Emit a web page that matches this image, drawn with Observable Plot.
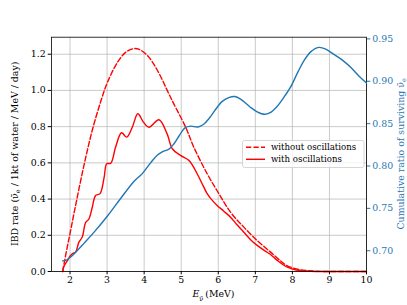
<!DOCTYPE html>
<html><head><meta charset="utf-8">
<script src="https://cdn.jsdelivr.net/npm/d3@7"></script>
<script src="https://cdn.jsdelivr.net/npm/@observablehq/plot@0.6"></script>
<style>
body{margin:0;background:#fff;}
#wrap{position:relative;width:407px;height:305px;}
#wrap svg{position:absolute;left:0;top:0;}
</style></head><body><div id="wrap"></div>
<script>
// ---- data ----
const energyNoOsc = [1.8,1.85,1.93,2.0,2.15,2.38,2.6,2.83,3.0,3.28,3.5,3.7,3.85,4.1,4.36,4.67,4.8,5.12,5.34,5.7,6.02,6.33,6.69,7.05,7.41,7.7,7.85,8.2,8.6,9.0,9.5,10];
const rateNoOsc   = [0,0.055,0.14,0.21,0.365,0.59,0.78,0.94,1.04,1.155,1.21,1.23,1.228,1.19,1.11,0.98,0.926,0.797,0.687,0.54,0.429,0.328,0.245,0.171,0.107,0.055,0.033,0.01,0.002,0,0,0];

const energyOsc = [1.8,1.84,1.93,2.02,2.08,2.15,2.24,2.33,2.42,2.51,2.6,2.69,2.81,2.92,2.99,3.1,3.23,3.39,3.53,3.68,3.83,3.98,4.13,4.4,4.62,4.76,4.98,5.21,5.43,5.6,5.7,5.85,5.97,6.15,6.33,6.5,6.69,6.9,7.05,7.25,7.41,7.6,7.85,8.1,8.5,9.0,9.5,10];
const rateOsc   = [0,0.03,0.06,0.09,0.1,0.107,0.162,0.19,0.27,0.29,0.355,0.42,0.43,0.52,0.595,0.598,0.687,0.766,0.742,0.797,0.871,0.825,0.797,0.838,0.76,0.678,0.641,0.613,0.54,0.47,0.43,0.39,0.365,0.333,0.30,0.26,0.217,0.17,0.144,0.115,0.094,0.06,0.025,0.008,0.001,0,0,0];

const energyCum = [1.8,1.9,2.0,2.1,2.38,2.65,3.01,3.37,3.73,3.95,4.18,4.36,4.5,4.67,4.8,4.95,5.1,5.25,5.45,5.6,5.75,5.9,6.1,6.3,6.45,6.6,6.85,7.05,7.25,7.4,7.58,7.8,7.95,8.15,8.31,8.5,8.71,8.9,9.11,9.35,9.56,9.8,10.0];
const ratioCum  = [0.688,0.689,0.692,0.696,0.709,0.722,0.741,0.762,0.782,0.791,0.804,0.813,0.817,0.820,0.826,0.836,0.845,0.847,0.846,0.849,0.856,0.865,0.876,0.881,0.882,0.879,0.870,0.864,0.861,0.863,0.870,0.883,0.893,0.911,0.924,0.935,0.940,0.938,0.932,0.925,0.917,0.906,0.898];

const xTicks = [2,3,4,5,6,7,8,9,10];
const yTicksLeft = [0,0.2,0.4,0.6,0.8,1.0,1.2];
const yTicksRight = [0.70,0.75,0.80,0.85,0.90,0.95];
const legendLabels = ["without oscillations","with oscillations"];

// ---- tables ----
const noOsc = energyNoOsc.map((E,i)=>({E, v: rateNoOsc[i]}));
const osc = energyOsc.map((E,i)=>({E, v: rateOsc[i]}));
const cum = energyCum.map((E,i)=>({E, r: ratioCum[i]}));

const W=407, H=305, mL=51, mR=41, mT=36.7, mB=34;
const font = "DejaVu Serif";
const fs = 9.4;
const legendFs = 8.6;
const red = "#ff0000", blue = "#1f77b4";
const dash = "5.2,2.3";

const main = Plot.plot({
  width: W, height: H, marginLeft: mL, marginRight: mR, marginTop: mT, marginBottom: mB,
  style: {fontFamily: font, fontSize: fs + "px", background: "transparent", color: "black"},
  x: {domain: [1.5, 10]},
  y: {domain: [0, 1.294]},
  marks: [
    Plot.gridX(xTicks, {stroke: "#b0b0b0", strokeOpacity: 0.75, strokeWidth: 0.9}),
    Plot.gridY(yTicksLeft, {stroke: "#b0b0b0", strokeOpacity: 0.75, strokeWidth: 0.9}),
    Plot.line(noOsc, {x: "E", y: "v", stroke: red, strokeWidth: 1.4, strokeDasharray: dash, curve: "catmull-rom"}),
    Plot.line(osc, {x: "E", y: "v", stroke: red, strokeWidth: 1.4, curve: "catmull-rom"}),
    Plot.axisX(xTicks, {tickSize: 3.3, tickPadding: 2, tickFormat: d => String(d), label: null}),
    Plot.axisY(yTicksLeft, {tickSize: 3.3, tickPadding: 2.5, tickFormat: d3.format(".1f"), label: null}),
    Plot.frame({stroke: "black", strokeWidth: 0.8})
  ]
});

const right = Plot.plot({
  width: W, height: H, marginLeft: mL, marginRight: mR, marginTop: mT, marginBottom: mB,
  style: {fontFamily: font, fontSize: fs + "px", background: "transparent", color: "black"},
  x: {domain: [1.5, 10], axis: null},
  y: {domain: [0.6755, 0.952], axis: null},
  marks: [
    Plot.line(cum, {x: "E", y: "r", stroke: blue, strokeWidth: 1.4, curve: "catmull-rom"}),
    Plot.axisY(yTicksRight, {anchor: "right", color: blue, tickSize: 3.3, tickPadding: 2.5, tickFormat: d3.format(".2f"), label: null})
  ]
});

const wrap = document.getElementById("wrap");
wrap.appendChild(main);
wrap.appendChild(right);

// ---- axis labels ----
const svgM = d3.select(main);
const cy = (mT + (H - mB)) / 2;
function nuBarE(sel) {
  sel.append("tspan").text("ν\u0304");
  sel.append("tspan").attr("baseline-shift", "sub").attr("font-size", (fs*0.7) + "px").text("e");
}
// left label
{
  const t = svgM.append("text").attr("transform", `translate(14,${cy}) rotate(-90)`)
    .attr("text-anchor", "middle").attr("dominant-baseline", "central")
    .attr("font-family", font).attr("font-size", fs + "px").attr("fill", "black");
  t.append("tspan").text("IBD rate (");
  nuBarE(t);
  t.append("tspan").text(" / 1kt of water / MeV / day)");
}
// x label
{
  const t = svgM.append("text").attr("x", (mL + W - mR) / 2 + 5).attr("y", 297)
    .attr("text-anchor", "middle").attr("font-family", font).attr("font-size", fs + "px").attr("fill", "black");
  t.append("tspan").attr("font-style", "italic").text("E");
  t.append("tspan").attr("baseline-shift", "sub").attr("font-size", (fs*0.7) + "px").text("ν\u0304");
  t.append("tspan").attr("dx", 2).text("(MeV)");
}
// right label
{
  const svgR = d3.select(right);
  const t = svgR.append("text").attr("transform", `translate(400,${cy}) rotate(-90)`)
    .attr("text-anchor", "middle").attr("dominant-baseline", "central")
    .attr("font-family", font).attr("font-size", fs + "px").attr("fill", blue);
  t.append("tspan").text("Cumulative ratio of surviving ");
  nuBarE(t);
}
// legend (inside main axes)
{
  const g = svgM.append("g").attr("font-family", font).attr("font-size", legendFs + "px").attr("text-anchor", "start");
  g.append("rect").attr("x", 242.5).attr("y", 140.5).attr("width", 121.5).attr("height", 27)
    .attr("rx", 2).attr("fill", "white").attr("fill-opacity", 0.8).attr("stroke", "#cccccc").attr("stroke-width", 0.8);
  const rows = [147.3, 159.3];
  legendLabels.forEach((lab, i) => {
    g.append("line").attr("x1", 246).attr("x2", 265).attr("y1", rows[i]).attr("y2", rows[i])
      .attr("stroke", red).attr("stroke-width", 1.4).attr("stroke-dasharray", i === 0 ? dash : null);
    g.append("text").attr("x", 271).attr("y", rows[i]).attr("dominant-baseline", "central")
      .attr("text-anchor", "start").attr("fill", "black").text(lab);
  });
}
</script></body></html>
